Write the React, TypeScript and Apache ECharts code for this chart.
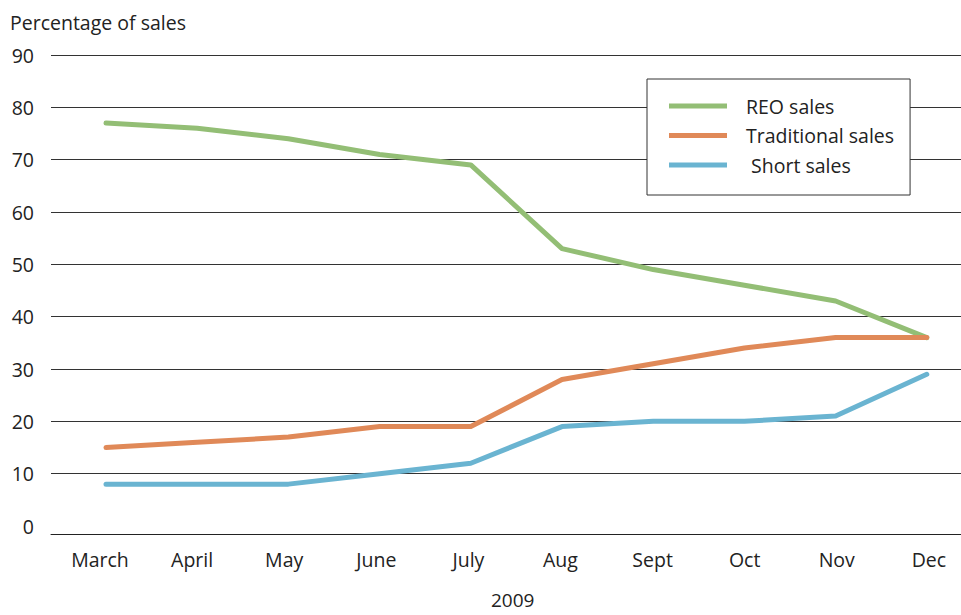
import React, { useEffect, useRef } from "react";
import * as echarts from "echarts";

const months = ["March", "April", "May", "June", "July", "Aug", "Sept", "Oct", "Nov", "Dec"];
const reoSales = [77, 76, 74, 71, 69, 53, 49, 46, 43, 36];
const traditionalSales = [15, 16, 17, 19, 19, 28, 31, 34, 36, 36];
const shortSales = [8, 8, 8, 10, 12, 19, 20, 20, 21, 29];
const yTicks = [0, 10, 20, 30, 40, 50, 60, 70, 80, 90];

const FONT = "'Open Sans', 'Noto Sans', sans-serif";
const TEXT = "#222";
const FS = 19.5;

export default function App() {
  const ref = useRef<HTMLDivElement>(null);
  useEffect(() => {
    document.body.style.margin = "0";
    if (!ref.current) return;
    const chart = echarts.init(ref.current, null, { renderer: "svg" });
    const pts = (arr: number[]) => arr.map((v, i) => [i, v]);
    const idx = months.map((_, i) => i);
    chart.setOption({
      animation: false,
      textStyle: { fontFamily: FONT },
      title: [
        {
          text: "Percentage of sales",
          left: 10,
          top: 10,
          padding: 0,
          textStyle: { fontFamily: FONT, fontSize: FS, fontWeight: "normal", color: TEXT, lineHeight: 24 },
        },
        {
          text: "2009",
          left: 491,
          top: 590,
          padding: 0,
          textStyle: { fontFamily: FONT, fontSize: 19, fontWeight: "normal", color: TEXT, lineHeight: 20 },
        },
      ],
      legend: {
        orient: "vertical",
        left: 647,
        top: 79,
        padding: [17, 16, 20, 22],
        itemGap: 9.5,
        itemWidth: 58,
        itemHeight: 5,
        icon: "rect",
        backgroundColor: "#fff",
        borderColor: "#333",
        borderWidth: 1,
        borderRadius: 0,
        textStyle: { fontFamily: FONT, fontSize: FS, color: TEXT, lineHeight: 20, padding: [0, 0, 0, 14] },
        data: ["REO sales", "Traditional sales", " Short sales"],
      },
      grid: { left: 51, right: 0, top: 55, bottom: 89, containLabel: false },
      xAxis: [
        {
          type: "value",
          min: -0.603,
          max: 9.375,
          offset: 8,
          axisLine: { show: true, onZero: false, lineStyle: { color: "#222", width: 1 } },
          axisTick: { show: false },
          splitLine: { show: false },
          axisLabel: { show: false },
        },
        {
          type: "value",
          position: "bottom",
          min: -0.532,
          max: 9.349,
          offset: 8,
          axisLine: { show: false },
          axisTick: { show: false },
          splitLine: { show: false },
          axisLabel: {
            customValues: idx,
            formatter: (v: number) => months[Math.round(v)] ?? "",
            fontFamily: FONT,
            fontSize: FS,
            color: TEXT,
            margin: 15,
          },
        },
      ],
      yAxis: {
        type: "value",
        min: yTicks[0],
        max: yTicks[yTicks.length - 1],
        interval: 10,
        axisLine: { show: false },
        axisTick: { show: false },
        splitLine: { show: true, showMinLine: false, lineStyle: { color: "#333", width: 1 } },
        axisLabel: { fontFamily: FONT, fontSize: FS, color: TEXT, margin: 17 },
      },
      series: [
        {
          name: "REO sales",
          type: "line",
          xAxisIndex: 0,
          data: pts(reoSales),
          symbol: "none",
          color: "#93be75",
          lineStyle: { width: 5, color: "#93be75", cap: "round", join: "round" },
        },
        {
          name: "Traditional sales",
          type: "line",
          xAxisIndex: 0,
          data: pts(traditionalSales),
          symbol: "none",
          color: "#e08958",
          lineStyle: { width: 5, color: "#e08958", cap: "round", join: "round" },
        },
        {
          name: " Short sales",
          type: "line",
          xAxisIndex: 0,
          data: pts(shortSales),
          symbol: "none",
          color: "#6ab4d1",
          lineStyle: { width: 5, color: "#6ab4d1", cap: "round", join: "round" },
        },
      ],
    });
    return () => chart.dispose();
  }, []);
  return <div ref={ref} style={{ width: 961, height: 615 }} />;
}
